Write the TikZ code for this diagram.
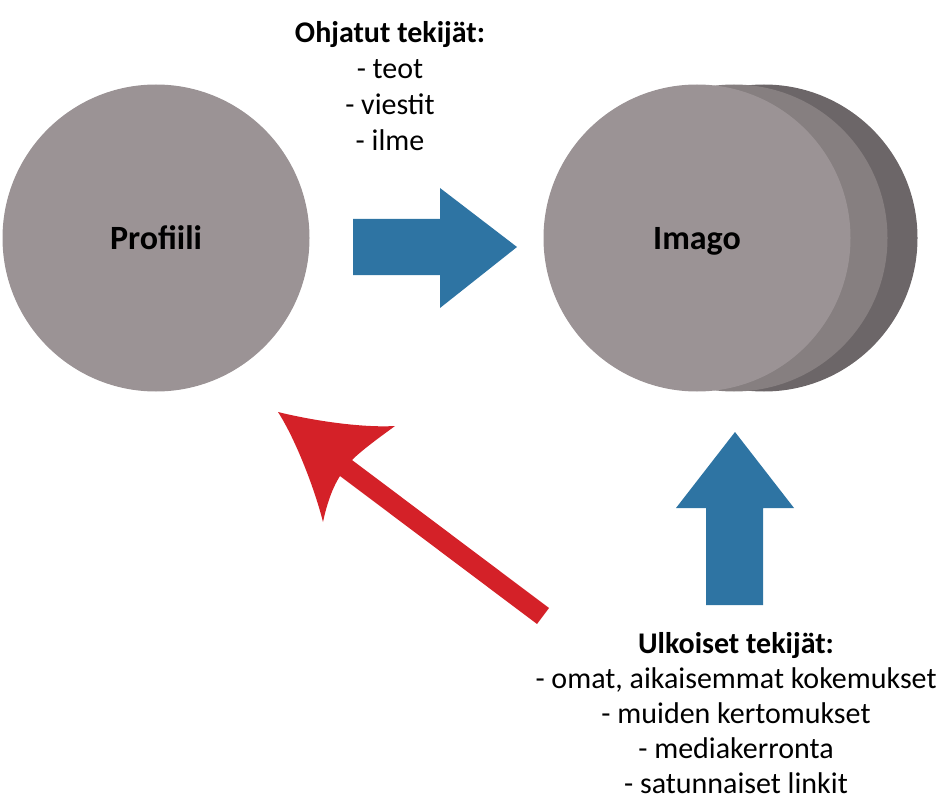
\documentclass[tikz,border=0pt]{standalone}
\usepackage{fontspec}
\setmainfont{Carlito}

\definecolor{discgray}{RGB}{155,147,149}
\definecolor{discmid}{RGB}{134,127,128}
\definecolor{discdark}{RGB}{108,102,104}
\definecolor{arrowblue}{RGB}{46,116,163}
\definecolor{arrowred}{RGB}{212,33,40}

\begin{document}
\begin{tikzpicture}[x=1pt, y=-1pt,
	disc/.style={circle, minimum size=307pt, inner sep=0pt, text depth=0pt, font=\fontsize{34}{40}\selectfont\bfseries},
	factors/.style={align=center, inner sep=0pt, anchor=north},
	blockarrow/.style={fill=arrowblue}]
\useasboundingbox (0,0) rectangle (948,805);
% draw discs
	\node[disc, fill=discgray] (profiili) at (156,238) {Profiili};
	\node[disc, fill=discdark] (imago3) at (764,238) {};
	\node[disc, fill=discmid] (imago2) at (734,238) {};
	\node[disc, fill=discgray] (imago) at (697,238) {Imago};

% draw factor texts
	\node[factors, font=\fontsize{30}{36}\selectfont] (ohjatut) at (390,21) {\textbf{Ohjatut tekijät:}\\- teot\\- viestit\\- ilme};
	\node[factors, font=\fontsize{30}{35}\selectfont] (ulkoiset) at (736,632) {\textbf{Ulkoiset tekijät:}\\- omat, aikaisemmat kokemukset\\- muiden kertomukset\\- mediakerronta\\- satunnaiset linkit};

% draw block arrows
	\fill[blockarrow] (353,219) -- (440,219) -- (440,188) -- (517,247) -- (440,308) -- (440,275) -- (353,275) -- cycle;
	\fill[blockarrow] (706,605) -- (706,508) -- (676,508) -- (735,432) -- (794,508) -- (763,508) -- (763,605) -- cycle;

% draw red arrow back to Profiili
	\fill[arrowred] (278,412) .. controls (310,420) and (360,428) .. (395,426)
		.. controls (380,437) and (362,450) .. (352,460)
		-- (549,608) -- (537,624) -- (340,476)
		.. controls (331,490) and (326,508) .. (323,522)
		.. controls (315,490) and (296,440) .. (278,412) -- cycle;
\end{tikzpicture}
\end{document}
